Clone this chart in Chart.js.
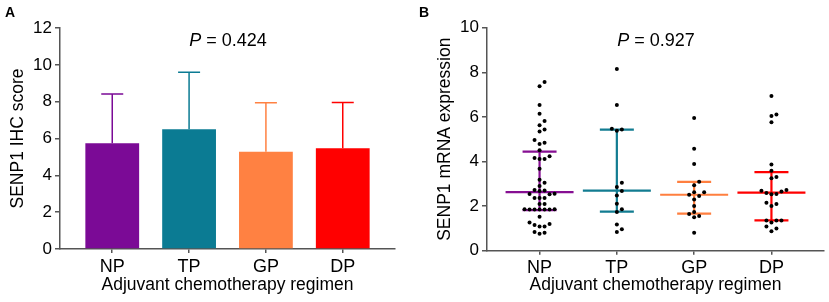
<!DOCTYPE html>
<html><head><meta charset="utf-8">
<script src="https://cdn.jsdelivr.net/npm/chart.js@4/dist/chart.umd.min.js"></script>
<style>
html,body{margin:0;padding:0;background:#fff;width:829px;height:302px;overflow:hidden;}
#a{position:absolute;left:0;top:0;width:414px;height:302px;}
#b{position:absolute;left:414px;top:0;width:415px;height:302px;}
.lbl{position:absolute;font:bold 14px "Liberation Sans",Arial,sans-serif;line-height:14px;color:#000;}
.pv{position:absolute;width:200px;text-align:center;font:18px "Liberation Sans",Arial,sans-serif;line-height:18px;color:#000;}
</style></head><body>
<div id="a"><canvas id="ca"></canvas></div>
<div id="b"><canvas id="cb"></canvas></div>
<div class="lbl" style="left:5px;top:5px;">A</div>
<div class="lbl" style="left:419px;top:5px;">B</div>
<div class="pv" style="left:128px;top:31px;"><i>P</i> = 0.424</div>
<div class="pv" style="left:556px;top:31px;"><i>P</i> = 0.927</div>
<script>
// ---------- data ----------
const categories = ['NP', 'TP', 'GP', 'DP'];
const ihcMean = [5.74, 6.50, 5.28, 5.47];
const ihcSD = [2.67, 3.10, 2.66, 2.48];
const ihcTicks = [0, 2, 4, 6, 8, 10, 12];
const mrnaTicks = [0, 2, 4, 6, 8, 10];
const mrnaMedian = [2.63, 2.69, 2.51, 2.60];
const mrnaQ1 = [1.82, 1.75, 1.66, 1.36];
const mrnaQ3 = [4.44, 5.43, 3.09, 3.52];
const npValues = [7.56, 7.37, 6.53, 6.14, 5.82, 5.62, 5.44, 5.34, 4.96, 4.84, 4.78, 4.51,
  4.23, 4.11, 4.11, 4.16, 3.68, 3.18, 3.05, 2.90, 2.70, 2.68, 2.72, 2.54, 2.55, 2.53,
  2.36, 2.36, 2.36, 2.09, 2.09, 1.85, 1.85, 1.85, 1.85, 1.85, 1.86, 1.86, 1.52, 1.27,
  1.20, 1.15, 1.08, 1.08, 0.84, 0.76, 0.80];
const tpValues = [8.15, 6.53, 5.47, 5.38, 5.43, 3.05, 2.86, 2.68, 2.48, 2.11, 1.86, 1.74, 1.18, 0.96, 0.84];
const gpValues = [5.95, 4.57, 3.89, 3.09, 2.93, 2.62, 2.62, 2.51, 2.45, 2.30, 2.00, 1.74, 1.65, 1.56, 1.50, 0.81];
const dpValues = [6.94, 6.11, 6.04, 5.76, 3.86, 3.59, 3.30, 3.25, 2.72, 2.65, 2.69, 2.59, 2.54, 2.53,
  2.15, 2.09, 2.00, 1.35, 1.35, 1.35, 1.27, 1.08, 0.99, 0.87];
const groupValues = [npValues, tpValues, gpValues, dpValues];

// ---------- style ----------
const barColors = ['#7B0A96', '#0B7B93', '#FF8142', '#FF0000'];
const lineColors = ['#860F92', '#127C91', '#FF7F3F', '#FF0000'];
const axisColor = '#555555';
const FONT = '"Liberation Sans", Arial, sans-serif';
Chart.defaults.font.family = FONT;
Chart.defaults.color = '#000';

// beeswarm layout of dots (offsets computed from the values)
function swarm(values, pxX, pxY, step, minD) {
  const order = values.map((v, i) => i).sort((a, b) => values[a] - values[b]);
  const placed = [];
  const off = new Array(values.length).fill(0);
  for (const i of order) {
    const y = values[i] * pxY;
    for (let k = 0; k < 60; k++) {
      const m = Math.ceil(k / 2);
      const cand = k === 0 ? 0 : (k % 2 ? m : -m) * step;
      if (placed.every(p => (p.x - cand) ** 2 + (p.y - y) ** 2 >= minD * minD)) {
        placed.push({x: cand, y});
        off[i] = cand / pxX;
        break;
      }
    }
  }
  return off;
}

function xScale(fontSize, h) {
  return {
    type: 'linear', min: 0.32, max: 4.68, offset: false,
    afterBuildTicks: s => { s.ticks = categories.map((c, i) => ({value: i + 1})); },
    afterFit: s => { s.height = h; },
    ticks: {callback: v => categories[v - 1], font: {size: fontSize}, padding: 3, color: '#000', autoSkip: false, maxRotation: 0},
    grid: {offset: false, drawOnChartArea: false, drawTicks: true, tickLength: 4, color: axisColor, lineWidth: 1.5},
    border: {display: true, color: axisColor, width: 1.5},
    title: {display: true, text: 'Adjuvant chemotherapy regimen', font: {size: 17.5}, padding: {top: 0, bottom: 6}, color: '#000'}
  };
}
function yScale(maxV, ticksArr, title, titlePad, width) {
  return {
    type: 'linear', min: 0, max: maxV,
    afterBuildTicks: s => { s.ticks = ticksArr.map(v => ({value: v})); },
    afterFit: s => { s.width = width; },
    ticks: {font: {size: 17}, padding: 3, color: '#000'},
    grid: {drawOnChartArea: false, drawTicks: true, tickLength: 5, color: axisColor, lineWidth: 1.5},
    border: {display: true, color: axisColor, width: 1.5},
    title: {display: true, text: title, font: {size: 17.5}, padding: {top: titlePad, bottom: 0}, color: '#000'}
  };
}

// ---------- panel A ----------
const errPlugin = {
  id: 'err',
  afterDatasetsDraw(chart) {
    const {ctx, scales: {x, y}} = chart;
    ctx.save();
    ctx.lineWidth = 1.5;
    categories.forEach((c, i) => {
      const px = x.getPixelForValue(i + 1);
      const y0 = y.getPixelForValue(ihcMean[i]);
      const y1 = y.getPixelForValue(ihcMean[i] + ihcSD[i]);
      ctx.strokeStyle = barColors[i];
      ctx.beginPath();
      ctx.moveTo(px, y0); ctx.lineTo(px, y1);
      ctx.moveTo(px - 11, y1); ctx.lineTo(px + 11, y1);
      ctx.stroke();
    });
    ctx.restore();
  }
};
new Chart(document.getElementById('ca'), {
  type: 'bar',
  data: {
    datasets: [{
      data: ihcMean.map((m, i) => ({x: i + 1, y: m})),
      backgroundColor: barColors, borderWidth: 0,
      barPercentage: 0.7, categoryPercentage: 1.0
    }]
  },
  options: {
    responsive: true, maintainAspectRatio: false, animation: false,
    layout: {padding: {left: 0, right: 19, top: 28, bottom: 0}},
    plugins: {legend: {display: false}, tooltip: {enabled: false}},
    scales: {
      x: xScale(18, 53),
      y: yScale(12, ihcTicks, 'SENP1 IHC score', 8, 60)
    }
  },
  plugins: [errPlugin]
});

// ---------- panel B ----------
const PX_X = 77.2, PX_Y = 22.3;
const iqrPlugin = {
  id: 'iqr',
  beforeDatasetsDraw(chart) {
    const {ctx, scales: {x, y}} = chart;
    ctx.save();
    ctx.lineWidth = 2.2;
    categories.forEach((c, i) => {
      const px = x.getPixelForValue(i + 1);
      const ym = y.getPixelForValue(mrnaMedian[i]);
      const y1 = y.getPixelForValue(mrnaQ1[i]);
      const y3 = y.getPixelForValue(mrnaQ3[i]);
      ctx.strokeStyle = lineColors[i];
      ctx.beginPath();
      ctx.moveTo(px, y1); ctx.lineTo(px, y3);
      ctx.moveTo(px - 17, y1); ctx.lineTo(px + 17, y1);
      ctx.moveTo(px - 17, y3); ctx.lineTo(px + 17, y3);
      ctx.moveTo(px - 34, ym); ctx.lineTo(px + 34, ym);
      ctx.stroke();
    });
    ctx.restore();
  }
};
new Chart(document.getElementById('cb'), {
  type: 'scatter',
  data: {
    datasets: groupValues.map((vals, g) => {
      const off = swarm(vals, PX_X, PX_Y, 5, 4.8);
      return {
        data: vals.map((v, i) => ({x: g + 1 + off[i], y: v})),
        backgroundColor: '#000', borderColor: '#000', borderWidth: 0,
        pointRadius: 2, pointStyle: 'circle'
      };
    })
  },
  options: {
    responsive: true, maintainAspectRatio: false, animation: false,
    layout: {padding: {left: 0, right: 5, top: 27.7, bottom: 0}},
    plugins: {legend: {display: false}, tooltip: {enabled: false}},
    scales: {
      x: xScale(18, 51.3),
      y: yScale(10, mrnaTicks, 'SENP1 mRNA expression', 21, 73)
    }
  },
  plugins: [iqrPlugin]
});
</script>
</body></html>
